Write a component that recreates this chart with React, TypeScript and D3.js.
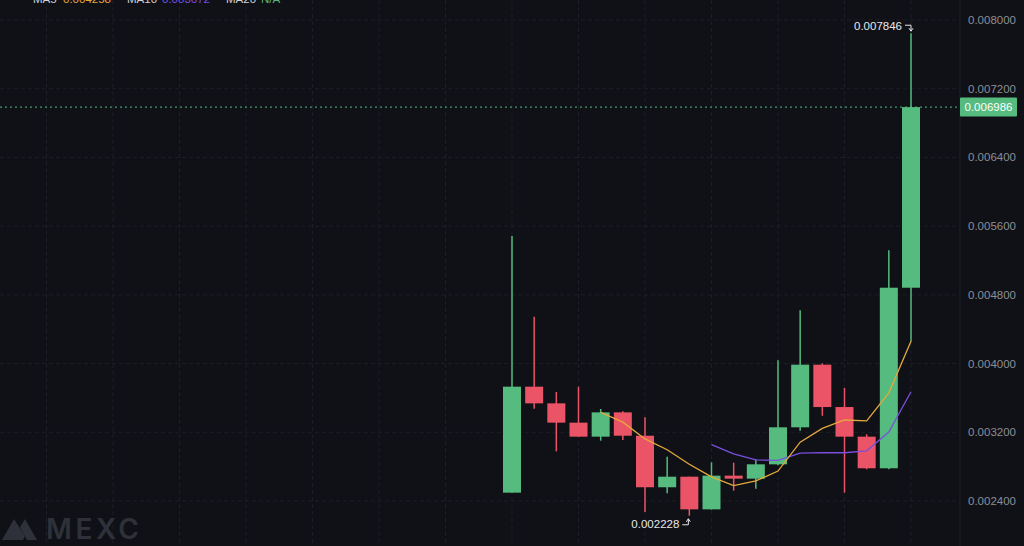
import React from "react";
import * as d3 from "d3";

const opens = [0.002497, 0.003731, 0.003537, 0.003312, 0.003149, 0.003432, 0.00316, 0.00256, 0.002683, 0.002303, 0.002695, 0.00266, 0.002827, 0.003258, 0.003987, 0.003494, 0.003149, 0.002781, 0.004883];
const closes = [0.003731, 0.003537, 0.003312, 0.003149, 0.003432, 0.00316, 0.00256, 0.002683, 0.002303, 0.002695, 0.00266, 0.002827, 0.003258, 0.003987, 0.003494, 0.003149, 0.002781, 0.004883, 0.006986];
const highs = [0.005485, 0.004546, 0.003669, 0.003731, 0.003471, 0.003444, 0.003374, 0.002916, 0.002683, 0.002851, 0.002846, 0.002885, 0.004038, 0.00462, 0.004003, 0.003716, 0.003177, 0.005319, 0.007846];
const lows = [0.002497, 0.003475, 0.002978, 0.003149, 0.003102, 0.00311, 0.002272, 0.002489, 0.002228, 0.0023, 0.00252, 0.002543, 0.002816, 0.003218, 0.003393, 0.002497, 0.002769, 0.002769, 0.004255];
const yTicks = [0.0024, 0.0032, 0.004, 0.0048, 0.0056, 0.0064, 0.0072, 0.008];
const lastPrice = 0.006986;
const maxPrice = 0.007846;
const minPrice = 0.002228;
const legendItems = [
  { label: "MA5", value: "0.004258", color: "#e5a93c" },
  { label: "MA10", value: "0.003672", color: "#7a4fe0" },
  { label: "MA20", value: "N/A", color: "#5ab87a" },
];

const W = 1024;
const H = 546;
const BG = "#101117";
const UP = "#55bb7e";
const DOWN = "#ea5466";
const AXIS_X = 960;

function movingAvg(vals: number[], n: number): (number | null)[] {
  return vals.map((_, i) => (i < n - 1 ? null : d3.mean(vals.slice(i - n + 1, i + 1))!));
}

export default function App() {
  const x = d3.scaleLinear().domain([0, 18]).range([512, 911]);
  const y = d3.scaleLinear().domain([0.0024, 0.008]).range([501, 20]);
  const bodyW = 18;
  const ma5 = movingAvg(closes, 5);
  const ma10 = movingAvg(closes, 10);
  const line = d3
    .line<number | null>()
    .defined((d) => d !== null)
    .x((_, i) => x(i))
    .y((d) => y(d as number));

  const vGrid: number[] = [];
  for (let i = -24; i <= 21; i += 3) {
    const xv = x(i);
    if (xv > 0 && xv < AXIS_X) vGrid.push(xv);
  }
  const fmt = (v: number) => v.toFixed(6);
  const font = "Helvetica, Arial, 'Liberation Sans', sans-serif";

  const maxI = highs.indexOf(maxPrice);
  const minI = lows.indexOf(minPrice);

  return (
    <svg width={W} height={H} style={{ position: "absolute", left: 0, top: 0, background: BG }} fontFamily={font}>
      <rect x={0} y={0} width={W} height={H} fill={BG} />
      {/* grid */}
      {yTicks.map((t) => (
        <line key={"h" + t} x1={0} x2={AXIS_X} y1={y(t)} y2={y(t)} stroke="#1d1f26" strokeWidth={1} strokeDasharray="4 3" />
      ))}
      {vGrid.map((xv) => (
        <line key={"v" + xv} x1={xv} x2={xv} y1={0} y2={H} stroke="#1d1f26" strokeWidth={1} strokeDasharray="4 3" />
      ))}
      {/* axis separator */}
      <line x1={AXIS_X} x2={AXIS_X} y1={0} y2={H} stroke="#1e2027" strokeWidth={1} />
      {/* watermark */}
      <g fill="#2e3139">
        <path d="M2 540 L14 519 L25 536 L23 540 Z" />
        <path d="M20 527 L25 519 L37 540 L27 540 Z" />
        <text x={46} y={539} fontSize={28} fontFamily="Inter, 'Open Sans', sans-serif" fontWeight={600} textLength={93} lengthAdjust="spacing">
          MEXC
        </text>
      </g>
      {/* last price line */}
      <line x1={0} x2={AXIS_X} y1={y(lastPrice)} y2={y(lastPrice)} stroke={UP} strokeWidth={1} strokeDasharray="2 3" />
      {/* candles */}
      {closes.map((c, i) => {
        const o = opens[i];
        const up = c >= o;
        const col = up ? UP : DOWN;
        const top = y(Math.max(o, c));
        const bot = y(Math.min(o, c));
        return (
          <g key={i}>
            <line x1={x(i)} x2={x(i)} y1={y(highs[i])} y2={y(lows[i])} stroke={col} strokeWidth={1.5} />
            <rect x={x(i) - bodyW / 2} y={top} width={bodyW} height={Math.max(1.5, bot - top)} fill={col} />
          </g>
        );
      })}
      {/* MAs */}
      <path d={line(ma10) || ""} fill="none" stroke="#7a4fe0" strokeWidth={1.3} />
      <path d={line(ma5) || ""} fill="none" stroke="#e5a93c" strokeWidth={1.3} />
      {/* y axis labels */}
      {yTicks.map((t) => (
        <text key={"t" + t} x={1016} y={y(t) + 4} textAnchor="end" fontSize={11.5} fill="#8b8e95">
          {fmt(t)}
        </text>
      ))}
      {/* last price tag */}
      <rect x={AXIS_X} y={y(lastPrice) - 9.5} width={57} height={19} fill={UP} rx={1} />
      <text x={AXIS_X + 28.5} y={y(lastPrice) + 4} textAnchor="middle" fontSize={11.5} fill="#ffffff">
        {fmt(lastPrice)}
      </text>
      {/* max label */}
      <text x={x(maxI) - 9} y={y(maxPrice) - 3} textAnchor="end" fontSize={11.5} fill="#e6e7ea">
        {fmt(maxPrice)}
      </text>
      <path
        d={`M${x(maxI) - 6} ${y(maxPrice) - 8} H${x(maxI)} V${y(maxPrice) - 3} M${x(maxI) - 2} ${y(maxPrice) - 5} L${x(maxI)} ${y(maxPrice) - 2} L${x(maxI) + 2} ${y(maxPrice) - 5}`}
        fill="none"
        stroke="#e6e7ea"
        strokeWidth={1}
      />
      {/* min label */}
      <text x={x(minI) - 10} y={y(minPrice) + 12} textAnchor="end" fontSize={11.5} fill="#e6e7ea">
        {fmt(minPrice)}
      </text>
      <path
        d={`M${x(minI) - 7} ${y(minPrice) + 9} H${x(minI) - 1} V${y(minPrice) + 3} M${x(minI) - 3} ${y(minPrice) + 6} L${x(minI) - 1} ${y(minPrice) + 3} L${x(minI) + 1} ${y(minPrice) + 6}`}
        fill="none"
        stroke="#e6e7ea"
        strokeWidth={1}
      />
      {/* legend (cut off at top, as in the reference) */}
      {(() => {
        let cx = 33;
        const items: React.ReactNode[] = [];
        legendItems.forEach((it, k) => {
          items.push(
            <text key={"l" + k} x={cx} y={3} fontSize={11.5} fill="#d0d2d6">
              {it.label}
            </text>
          );
          cx += it.label.length === 3 ? 30 : 35;
          items.push(
            <text key={"v" + k} x={cx} y={3} fontSize={11.5} fill={it.color}>
              {it.value}
            </text>
          );
          cx += 64;
        });
        return items;
      })()}
    </svg>
  );
}
